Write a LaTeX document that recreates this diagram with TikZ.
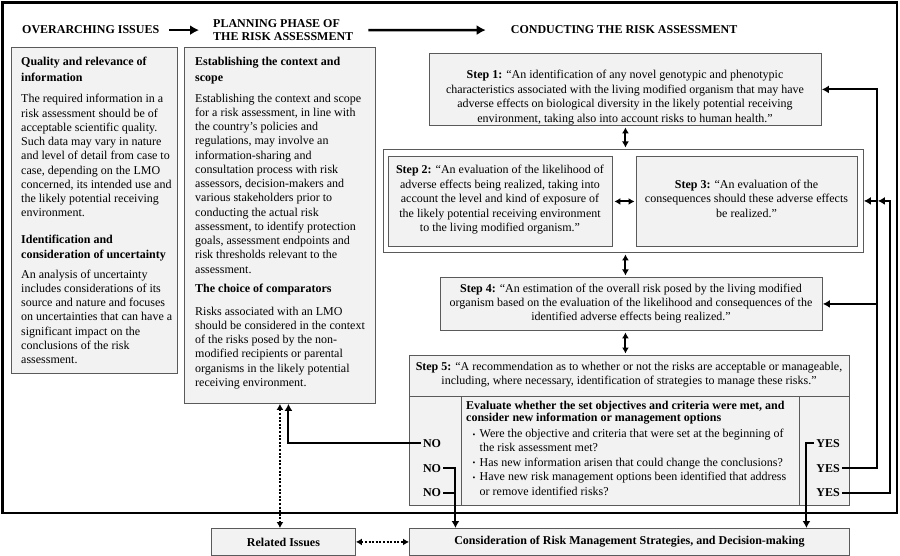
\documentclass[tikz,border=0pt]{standalone}
\usepackage{fontspec}
\setmainfont{Liberation Serif}
\usetikzlibrary{arrows.meta,calc}
\definecolor{boxfill}{HTML}{F2F2F2}
\definecolor{boxline}{HTML}{5A5A5A}
\begin{document}
\begin{tikzpicture}[x=1pt,y=-1pt,
  box/.style={draw=boxline, fill=boxfill, line width=0.9pt, anchor=north west, inner sep=0pt},
  wbox/.style={draw=boxline, fill=white, line width=0.9pt, anchor=north west, inner sep=0pt},
  body/.style={font=\fontsize{12}{14.25}\selectfont, align=left, anchor=base west, inner sep=0pt},
  head/.style={font=\bfseries\fontsize{12}{15.5}\selectfont, align=left, anchor=base west, inner sep=0pt},
  hdr/.style={font=\bfseries\fontsize{12}{13.4}\selectfont, align=left, anchor=base west, inner sep=0pt},
  steptxt/.style={font=\fontsize{12}{14.4}\selectfont, align=center, anchor=base, inner sep=0pt},
  lbl/.style={font=\bfseries\fontsize{12}{14}\selectfont, anchor=base, inner sep=2pt},
  conn/.style={line width=2pt, draw=black},
  tip/.style={-{Latex[length=7pt,width=8pt]}},
  dbl/.style={line width=2pt, {Latex[length=6pt,width=7pt]}-{Latex[length=6pt,width=7pt]}, shorten <=1.5pt, shorten >=1.5pt},
  dotarrow/.style={line width=2pt, dash pattern=on 2pt off 1.6pt, {Latex[length=6pt,width=7pt]}-{Latex[length=6pt,width=7pt]}}
]
\useasboundingbox (0,0) rectangle (900,556);
\fill[white] (0,0) rectangle (900,556);
\draw[line width=2.5pt] (2.5,2.5) rectangle (897,513);

% headers (multi-line nodes are placed by the baseline of their last line)
\node[hdr] (hOver) at (22,34) {OVERARCHING ISSUES};
\node[hdr] (hPlan) at (213,40.7) {PLANNING PHASE OF\\THE RISK ASSESSMENT};
\node[hdr] (hCond) at (510.7,34) {CONDUCTING THE RISK ASSESSMENT};
\draw[conn, line width=2.5pt, -{Latex[length=9pt,width=10pt]}] ([xshift=10pt]hOver.east) -- ([xshift=-14pt]hPlan.west |- hOver.east);
\draw[conn, line width=2.5pt, -{Latex[length=9pt,width=10pt]}] ([xshift=15pt]hPlan.east |- hOver.east) -- ([xshift=-25pt]hCond.west);

% left box
\node[box, minimum width=166pt, minimum height=326pt] (lbox) at (11,47) {};
\node[head] (lh1) at (21,81.5) {Quality and relevance of\\information};
\node[body] (lp1) at (21,217) {The required information in a\\risk assessment should be of\\acceptable scientific quality.\\Such data may vary in nature\\and level of detail from case to\\case, depending on the LMO\\concerned, its intended use and\\the likely potential receiving\\environment.};
\node[head] (lh2) at (21,258.5) {Identification and\\consideration of uncertainty};
\node[body] (lp2) at (21,363.5) {An analysis of uncertainty\\includes considerations of its\\source and nature and focuses\\on uncertainties that can have a\\significant impact on the\\conclusions of the risk\\assessment.};

% middle box
\node[box, minimum width=191pt, minimum height=356pt] (mbox) at (184,47) {};
\node[head] (mh1) at (195,81.5) {Establishing the context and\\scope};
\node[body] (mp1) at (195,273) {Establishing the context and scope\\for a risk assessment, in line with\\the country’s policies and\\regulations, may involve an\\information-sharing and\\consultation process with risk\\assessors, decision-makers and\\various stakeholders prior to\\conducting the actual risk\\assessment, to identify protection\\goals, assessment endpoints and\\risk thresholds relevant to the\\assessment.};
\node[head] (mh2) at (195,293) {The choice of comparators};
\node[body] (mp2) at (195,386.25) {Risks associated with an LMO\\should be considered in the context\\of the risks posed by the non-\\modified recipients or parental\\organisms in the likely potential\\receiving environment.};

% step boxes
\node[box, minimum width=392pt, minimum height=72pt] (s1) at (429,53) {};
\node[steptxt] (t1) at (625,122.2) {\textbf{Step 1:} “An identification of any novel genotypic and phenotypic\\characteristics associated with the living modified organism that may have\\adverse effects on biological diversity in the likely potential receiving\\environment, taking also into account risks to human health.”};

\node[wbox, minimum width=480pt, minimum height=103pt] (s23) at (383,149) {};
\node[box, minimum width=224pt, minimum height=90pt] (s2) at (388,156) {};
\node[box, minimum width=221pt, minimum height=90pt] (s3) at (636,156) {};
\node[steptxt] (t2) at (500,231.6) {\textbf{Step 2:} “An evaluation of the likelihood of\\adverse effects being realized, taking into\\account the level and kind of exposure of\\the likely potential receiving environment\\to the living modified organism.”};
\node[steptxt] (t3) at (746.5,217.3) {\textbf{Step 3:} “An evaluation of the\\consequences should these adverse effects\\be realized.”};

\node[box, minimum width=382pt, minimum height=53pt] (s4) at (440,277) {};
\node[steptxt] (t4) at (631,320.8) {\textbf{Step 4:} “An estimation of the overall risk posed by the living modified\\organism based on the evaluation of the likelihood and consequences of the\\identified adverse effects being realized.”};

\node[box, minimum width=440pt, minimum height=150pt] (s5) at (409,355) {};
\draw[draw=boxline, line width=0.9pt] (409,396) -- (849,396);
\draw[draw=boxline, line width=0.9pt] (461,396) -- (461,505);
\draw[draw=boxline, line width=0.9pt] (799,396) -- (799,505);
\node[steptxt] (t5) at (629,384.4) {\textbf{Step 5:} “A recommendation as to whether or not the risks are acceptable or manageable,\\including, where necessary, identification of strategies to manage these risks.”};
\node[head, font=\bfseries\fontsize{12}{12}\selectfont] (ev) at (466,421) {Evaluate whether the set objectives and criteria were met, and\\consider new information or management options};
\node[body, font=\fontsize{12}{14.4}\selectfont] (bul) at (479.5,495.1) {Were the objective and criteria that were set at the beginning of\\the risk assessment met?\\Has new information arisen that could change the conclusions?\\Have new risk management options been identified that address\\or remove identified risks?};
\node[body, font=\fontsize{8}{8}\selectfont] (b1) at (472.5,437) {•};
\node[body, font=\fontsize{8}{8}\selectfont] (b2) at (472.5,465.8) {•};
\node[body, font=\fontsize{8}{8}\selectfont] (b3) at (472.5,480.2) {•};

\node[lbl] (no1) at (432,447) {NO};
\node[lbl] (no2) at (432,472) {NO};
\node[lbl] (no3) at (432,496.5) {NO};
\node[lbl] (yes1) at (828,447) {YES};
\node[lbl] (yes2) at (828,472) {YES};
\node[lbl] (yes3) at (828,496.5) {YES};

% bottom boxes
\node[box, minimum width=144pt, minimum height=27pt, font=\bfseries\fontsize{12}{14}\selectfont] (rel) at (211,528) {Related Issues};
\node[box, minimum width=440pt, minimum height=27pt, font=\bfseries\fontsize{12}{14}\selectfont] (cons) at (409,528) {Consideration of Risk Management Strategies, and Decision-making};

% routing coordinates
\coordinate (nox) at ([xshift=-174pt]cons.north);
\coordinate (yesx) at ([xshift=177pt]cons.north);
\coordinate (va) at ([xshift=13pt]s23.east);
\coordinate (vb) at ([xshift=26pt]s23.east);
\coordinate (vatip) at ([xshift=14pt]s23.east);
\coordinate (nodrop) at ([xshift=8.5pt]mbox.south);

% step connectors
\draw[dbl] (s1.south) -- (s1.south |- s23.north);
\draw[dbl] (s2.east |- s2.center) -- (s3.west |- s2.center);
\draw[dbl] (s23.south -| s1.south) -- (s4.north -| s1.south);
\draw[dbl] (s4.south -| s1.south) -- (s5.north -| s1.south);

% dotted connectors
\draw[dotarrow] (mbox.south) -- (mbox.south |- rel.north);
\draw[dotarrow] (rel.east) -- (cons.west);

% NO connectors
\draw[conn, tip] (no1.west) -| (nodrop);
\draw[conn, tip] (no2.east) -| (nox);
\draw[conn] (no3.east) -- (no3.east -| nox);

% YES connectors
\draw[conn, tip] (yes1.west) -| (yesx);
\draw[conn, tip] (yes2.east) -| (va |- s1.east) -- (s1.east);
\draw[conn, tip] (va) -- (s23.east);
\draw[conn, tip] (va |- s4.east) -- (s4.east);
\draw[conn, tip] (yes3.east) -| (vb) -- (vatip);
\end{tikzpicture}
\end{document}
